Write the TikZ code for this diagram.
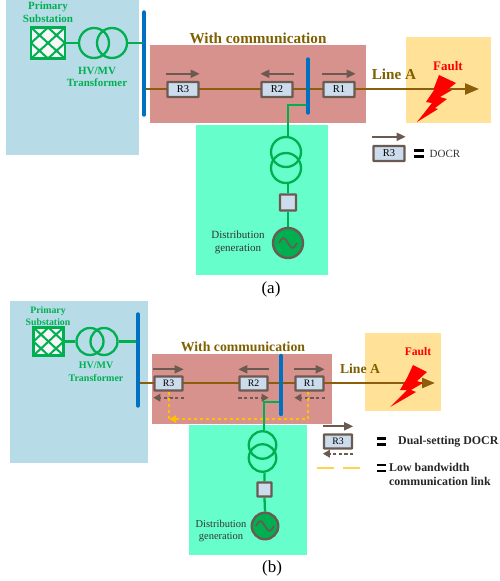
\documentclass[tikz,border=0pt]{standalone}
\usepackage{fontspec}
\setmainfont{Liberation Serif}
\usetikzlibrary{calc,arrows.meta}
\pgfdeclarelayer{zone layer}
\pgfdeclarelayer{line layer}
\pgfsetlayers{zone layer,line layer,main}
\definecolor{subzone}{HTML}{B7DCE8}
\definecolor{commzone}{HTML}{D8928E}
\definecolor{dgzone}{HTML}{66FFCC}
\definecolor{faultzone}{HTML}{FFE197}
\definecolor{linebrown}{HTML}{8C5E0B}
\definecolor{titlebrown}{HTML}{7F6000}
\definecolor{gridgreen}{HTML}{00B050}
\definecolor{busblue}{HTML}{0070C0}
\definecolor{relayedge}{HTML}{6B5A52}
\definecolor{relayfill}{HTML}{CCDCEC}
\definecolor{linkyellow}{HTML}{FFC000}
\tikzset{
	gridline/.style={draw=gridgreen,line width=2.3pt},
	mainline/.style={draw=linebrown,line width=2.5pt},
	busbar/.style={draw=busblue,line width=3.4pt,line cap=round},
	relaybox/.style={rectangle,draw=relayedge,fill=relayfill,line width=2.4pt,rounded corners=0.5pt,inner sep=0pt,font=\fontsize{10.5}{10.5}\selectfont},
	tripdir/.style={draw=relayedge,line width=1.9pt,-{Triangle[length=9pt,width=8pt]}},
	backdir/.style={draw=relayedge,line width=1.9pt,dash pattern=on 3.2pt off 2.4pt,-{Triangle[length=7pt,width=7.5pt]}},
	link/.style={draw=linkyellow,line width=2.3pt,dash pattern=on 3.2pt off 2.8pt},
	winding/.style={circle,draw=gridgreen,line width=2.3pt,inner sep=0pt},
	source/.style={circle,draw=relayedge,fill=gridgreen,line width=2.4pt,inner sep=0pt,
		path picture={\draw[relayedge,line width=1.7pt]
			([xshift=-9pt]path picture bounding box.center) sin ([xshift=-4.5pt,yshift=5pt]path picture bounding box.center)
			cos (path picture bounding box.center) sin ([xshift=4.5pt,yshift=-5pt]path picture bounding box.center)
			cos ([xshift=9pt]path picture bounding box.center);}},
	substation/.style={rectangle,draw=gridgreen,fill=white!97!black,line width=2.4pt,inner sep=0pt,
		path picture={\draw[gridgreen,line width=2pt]
			(path picture bounding box.north west) -- (path picture bounding box.south east)
			(path picture bounding box.north east) -- (path picture bounding box.south west)
			(path picture bounding box.north) -- (path picture bounding box.east) -- (path picture bounding box.south) -- (path picture bounding box.west) -- cycle;}},
	greentext/.style={text=gridgreen,font=\fontsize{11}{12.7}\selectfont\bfseries,inner sep=0pt},
	darktext/.style={text=black!80,font=\fontsize{11}{12.7}\selectfont,inner sep=0pt},
	brownhead/.style={text=titlebrown,font=\fontsize{15.2}{15.2}\selectfont\bfseries,inner sep=0pt},
	faulttext/.style={text=red,font=\fontsize{13}{13}\selectfont\bfseries,inner sep=0pt},
	legendbold/.style={text=black!85,font=\fontsize{11.9}{14}\selectfont\bfseries,inner sep=0pt,anchor=west},
	captiontext/.style={font=\fontsize{17}{17}\selectfont,inner sep=0pt},
	equalbar/.style={draw=black,line width=2.8pt}
}
\begin{document}
\begin{tikzpicture}[x=1pt,y=-1pt]
		\useasboundingbox (0,0) rectangle (499,581);
		\begin{pgfonlayer}{zone layer}
		% zones of (a)
		\fill[subzone] (6,0) rectangle (139,155);
		\fill[commzone] (150,45) rectangle (366,123);
		\fill[dgzone] (196,125) rectangle (328,275);
		\fill[faultzone] (406,37) rectangle (491,123);
		% zones of (b)
		\fill[subzone] (10,301) rectangle (148,463);
		\fill[commzone] (152,354) rectangle (332,424);
		\fill[dgzone] (189,425) rectangle (307,555);
		\fill[faultzone] (365,333) rectangle (441,411);
		\end{pgfonlayer}

		% panel (a)
		\node (subA) [substation,minimum width=34pt,minimum height=31pt] at (48,43) {};
		\node (hvA1) [winding,minimum size=30pt] at (94,43) {};
		\node (hvA2) [winding,minimum size=30pt] at (112,43) {};
		\node (primaryA) [greentext,align=center] at (48,12) {Primary\\Substation};
		\node (hvtextA) [greentext,align=center] at (97,77) {HV/MV\\Transformer};
		\node (titleA) [brownhead] at (258,38) {With communication};
		\node (lineA) [brownhead] at (394,74) {Line A};
		\node (faultA) [faulttext] at (448,66) {Fault};
		\coordinate (busAtop) at (144,12);
		\coordinate (busAbot) at (144,115);
		\coordinate (busBtop) at (308,59);
		\coordinate (busBbot) at (308,113);
		\coordinate (endA) at (479,89);
		\coordinate (tapA) at (288,105);
		\node (r3A) [relaybox,minimum width=31pt,minimum height=15pt] at (183,89.5) {R3};
		\node (r2A) [relaybox,minimum width=31pt,minimum height=15pt] at (277,89.5) {R2};
		\node (r1A) [relaybox,minimum width=31pt,minimum height=15pt] at (339,89.5) {R1};
		\node (stepA1) [winding,minimum size=30pt] at (286,152) {};
		\node (stepA2) [winding,minimum size=30pt] at (286,168) {};
		\node (boxA) [relaybox,minimum size=16pt] at (288,202.5) {};
		\node (dgA) [source,minimum size=30pt] at (288,243) {};
		\node (dgtextA) [darktext,align=center] at (238,242.5) {Distribution\\generation};
		\node (capA) [captiontext] at (271,289) {(a)};
		\node (legA) [relaybox,minimum width=31pt,minimum height=15pt] at (389,153.5) {R3};
		\node (docrA) [darktext] at (445,153.5) {DOCR};
		\coordinate (eqA) at (419,153.5);
		\draw[equalbar] ($(eqA)+(-5,-3.2)$) -- ($(eqA)+(5,-3.2)$) ($(eqA)+(-5,3.2)$) -- ($(eqA)+(5,3.2)$);
		\begin{pgfonlayer}{line layer}
		\draw[gridline] (subA.east) -- (hvA1.west) (hvA2.east) -- (busAtop |- hvA2);
		\draw[mainline,-{Triangle[length=14pt,width=11pt]}] (busAtop |- endA) -- (endA);
		\draw[gridline] (busBtop |- tapA) -- (tapA) -- (tapA |- stepA1.north);
		\draw[gridline] (boxA |- stepA2.south) -- (boxA.north) (boxA.south) -- (dgA.north);
		\draw[busbar] (busAtop) -- (busAbot);
		\draw[busbar] (busBtop) -- (busBbot);
		\end{pgfonlayer}
		\draw[tripdir] ([yshift=7pt]r3A.north west) -- ([yshift=7pt]r3A.north east);
		\draw[tripdir] ([yshift=7pt]r2A.north east) -- ([yshift=7pt]r2A.north west);
		\draw[tripdir] ([yshift=7pt]r1A.north west) -- ([yshift=7pt]r1A.north east);
		\draw[tripdir] ([yshift=8pt]legA.north west) -- ([yshift=8pt]legA.north east);
		\fill[red] (417,122) -- (432,103) -- (426,102) -- (434,90) -- (434,88) -- (439,75) -- (456,83) -- (447,90) -- (452,90) -- (440,97) -- (447,99) -- (435,108) -- (438,109) -- cycle;

		% panel (b)
		\node (subB) [substation,minimum width=30pt,minimum height=28pt] at (48.5,341.5) {};
		\node (hvB1) [winding,minimum size=27pt] at (90,341.5) {};
		\node (hvB2) [winding,minimum size=27pt] at (104,341.5) {};
		\node (primaryB) [greentext,font=\fontsize{9.8}{12}\selectfont\bfseries,align=center] at (48,316) {Primary\\Substation};
		\node (hvtextB) [greentext,font=\fontsize{10}{12.7}\selectfont\bfseries,align=center] at (96,371.5) {HV/MV\\Transformer};
		\node (titleB) [brownhead,font=\fontsize{13.8}{13.8}\selectfont\bfseries] at (243,347) {With communication};
		\node (lineB) [brownhead,font=\fontsize{13.7}{13.7}\selectfont\bfseries] at (360,369) {Line A};
		\node (faultB) [faulttext,font=\fontsize{11.6}{11.6}\selectfont\bfseries] at (418,352) {Fault};
		\coordinate (busCtop) at (138,314);
		\coordinate (busCbot) at (138,406);
		\coordinate (busDtop) at (281,355.5);
		\coordinate (busDbot) at (281,414.5);
		\coordinate (endB) at (435,383);
		\coordinate (tapB) at (264,402);
		\coordinate (cornerR) at (308,419);
		\coordinate (cornerL) at (169,419);
		\node (r3B) [relaybox,font=\fontsize{9.8}{9.8}\selectfont,minimum width=28pt,minimum height=14pt] at (168.5,383.5) {R3};
		\node (r2B) [relaybox,font=\fontsize{9.8}{9.8}\selectfont,minimum width=28pt,minimum height=14pt] at (253.5,383.5) {R2};
		\node (r1B) [relaybox,font=\fontsize{9.8}{9.8}\selectfont,minimum width=28pt,minimum height=14pt] at (309.5,383.5) {R1};
		\node (stepB1) [winding,minimum size=27.5pt] at (262.5,445) {};
		\node (stepB2) [winding,minimum size=27.5pt] at (262.5,458) {};
		\node (boxB) [relaybox,minimum size=14pt] at (264.5,489.5) {};
		\node (dgB) [source,minimum size=26.5pt] at (265,526) {};
		\node (dgtextB) [darktext,font=\fontsize{10.5}{12}\selectfont,align=center] at (221,531) {Distribution\\generation};
		\node (capB) [captiontext] at (272,568) {(b)};
		\node (legB) [relaybox,font=\fontsize{9.8}{9.8}\selectfont,minimum width=28pt,minimum height=14pt] at (338,441.5) {R3};
		\node (dualB) [legendbold] at (398,442) {Dual-setting DOCR};
		\node (lowB) [legendbold,align=left] at (389,474) {Low bandwidth\\communication link};
		\coordinate (eqB1) at (381,441.5);
		\coordinate (eqB2) at (381,468);
		\coordinate (dashA) at (317,468);
		\coordinate (dashB) at (360,468);
		\draw[equalbar] ($(eqB1)+(-4.5,-3)$) -- ($(eqB1)+(4.5,-3)$) ($(eqB1)+(-4.5,3)$) -- ($(eqB1)+(4.5,3)$);
		\draw[equalbar] ($(eqB2)+(-4.5,-3)$) -- ($(eqB2)+(4.5,-3)$) ($(eqB2)+(-4.5,3)$) -- ($(eqB2)+(4.5,3)$);
		\begin{pgfonlayer}{line layer}
		\draw[gridline] (subB.east) -- (hvB1.west) (hvB2.east) -- (busCtop |- hvB2);
		\draw[mainline,-{Triangle[length=13pt,width=10pt]}] (busCtop |- endB) -- (endB);
		\draw[gridline] (busDtop |- tapB) -- (tapB) -- (tapB |- stepB1.north);
		\draw[gridline] (boxB |- stepB2.south) -- (boxB.north) (boxB.south) -- (dgB.north);
		\draw[busbar] (busCtop) -- (busCbot);
		\draw[busbar] (busDtop) -- (busDbot);
		\end{pgfonlayer}
		\draw[tripdir] ([yshift=6pt]r3B.north west) -- ([yshift=6pt]r3B.north east);
		\draw[tripdir] ([yshift=6pt]r2B.north east) -- ([yshift=6pt]r2B.north west);
		\draw[tripdir] ([yshift=6pt]r1B.north west) -- ([yshift=6pt]r1B.north east);
		\draw[tripdir] ([yshift=7pt]legB.north west) -- ([yshift=7pt]legB.north east);
		\draw[backdir] ([yshift=-6pt]r3B.south east) -- ([yshift=-6pt]r3B.south west);
		\draw[backdir] ([yshift=-6pt]r2B.south west) -- ([yshift=-6pt]r2B.south east);
		\draw[backdir] ([yshift=-6pt]r1B.south east) -- ([yshift=-6pt]r1B.south west);
		\draw[backdir] ([yshift=-4pt]legB.south east) -- ([yshift=-4pt]legB.south west);
		\draw[link] (r3B.south -| cornerL) -- (cornerL);
		\draw[link,-{Triangle[length=7pt,width=7pt]}] (r1B.south -| cornerR) -- (cornerR) -- (cornerL);
		\draw[draw=linkyellow!70!white,line width=1.6pt,dash pattern=on 17pt off 9pt] (dashA) -- (dashB);
		\fill[red] (390,407) -- (407,390) -- (400,390) -- (407,378) -- (413,365) -- (427,372) -- (417,381) -- (423,383) -- (411,390) -- (416,392) -- (404,399) -- cycle;
\end{tikzpicture}
\end{document}
